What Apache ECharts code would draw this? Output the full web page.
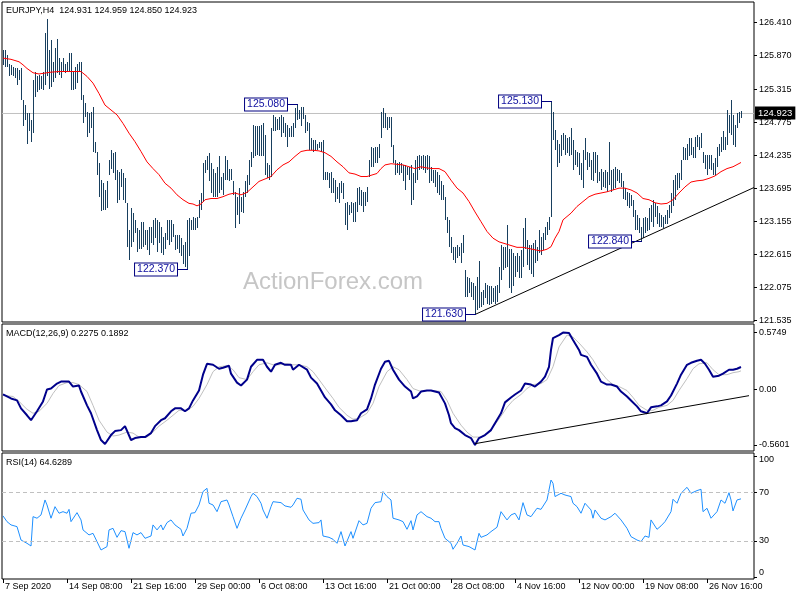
<!DOCTYPE html>
<html><head><meta charset="utf-8">
<script src="https://cdn.jsdelivr.net/npm/echarts@6/dist/echarts.min.js"></script>
<style>html,body{margin:0;padding:0;background:#fff}#c{width:800px;height:600px}</style>
</head><body><div id="c"></div>
<script>
// ---------- DATA ----------
const highs = [
125.96,125.96,125.88,125.74,125.72,125.69,125.66,125.66,125.63,125.66,
125.14,125.06,124.93,124.93,124.82,125.47,125.61,125.53,125.55,125.53,
125.61,126.24,126.47,125.96,126.13,125.77,125.99,126.15,125.83,125.77,
125.83,125.74,125.77,125.91,125.92,125.61,125.69,125.74,125.77,125.77,
125.23,125.09,124.95,124.93,124.95,125.03,124.46,124.30,124.11,123.83,
123.78,123.67,123.81,124.16,124.32,124.27,124.30,124.00,123.97,124.02,
123.94,123.86,123.45,123.01,123.37,123.29,123.18,123.04,123.01,123.15,
123.15,123.01,123.01,123.07,123.07,123.18,123.21,123.18,123.15,123.07,
122.90,122.96,123.18,123.18,123.18,123.12,122.93,122.93,122.93,122.88,
122.77,122.82,123.18,123.21,123.18,123.23,123.21,123.23,123.51,123.62,
124.11,124.16,124.22,124.27,124.11,124.02,123.94,124.05,124.22,123.89,
123.94,124.22,124.16,124.02,124.02,123.81,123.64,123.56,123.70,123.56,
123.64,123.81,123.92,124.16,124.30,124.73,124.71,124.71,124.71,124.73,
124.76,124.57,124.11,124.08,124.68,124.90,124.87,124.84,124.87,124.90,
124.87,124.76,124.73,124.68,124.71,124.76,125.01,125.08,124.98,125.03,
125.03,124.90,124.79,124.76,124.52,124.49,124.49,124.43,124.46,124.46,
124.49,123.97,123.97,123.94,123.97,123.86,123.83,123.72,123.78,123.81,
123.78,123.45,123.48,123.42,123.48,123.45,123.48,123.70,123.72,123.67,
123.64,123.64,123.72,124.16,124.38,124.35,124.38,124.38,124.43,124.95,
125.01,124.93,124.87,124.87,124.87,124.41,124.16,124.11,124.13,124.11,
124.08,124.08,124.05,124.05,124.08,123.94,124.16,124.22,124.24,124.22,
124.24,124.22,124.24,124.22,124.05,124.00,124.00,123.97,123.92,123.81,
123.75,123.56,123.23,123.18,122.90,122.74,122.74,122.77,122.74,122.80,
122.93,122.36,122.25,122.22,122.17,122.14,122.09,122.25,122.50,122.00,
122.03,122.14,122.11,122.09,122.09,122.06,122.09,122.11,122.41,122.77,
122.74,122.74,123.10,122.71,122.71,122.63,122.58,122.63,122.58,122.69,
123.04,123.21,122.85,122.77,122.77,122.80,122.85,122.74,123.01,122.90,
122.96,123.07,123.15,123.23,125.13,124.95,124.65,124.49,124.43,124.57,
124.60,124.57,124.52,124.54,124.68,124.49,124.32,124.30,124.27,124.11,
124.32,124.52,124.30,124.27,124.16,124.30,124.30,124.24,123.97,124.02,
123.97,124.00,123.97,124.46,124.00,124.02,124.05,124.02,124.00,123.94,
123.81,123.70,123.64,123.62,123.59,123.51,123.34,123.26,123.21,123.07,
123.21,123.23,123.21,123.37,123.42,123.51,123.45,123.40,123.29,123.26,
123.23,123.26,123.34,123.42,123.62,123.83,123.92,123.94,123.94,124.16,
124.38,124.35,124.43,124.52,124.52,124.38,124.54,124.57,124.54,124.60,
124.30,124.24,124.24,124.24,124.24,124.11,124.19,124.38,124.43,124.54,
124.63,124.54,124.98,124.90,125.14,124.90,124.73,124.93,124.95,124.959
];
const lows = [
125.72,125.69,125.69,125.53,125.55,125.53,125.50,125.39,125.47,125.14,
124.71,124.82,124.43,124.63,124.46,124.60,125.20,125.28,125.31,125.33,
125.31,125.39,125.53,125.33,125.36,125.44,125.50,125.58,125.55,125.50,
125.61,125.58,125.61,125.61,125.31,125.31,125.33,125.42,125.61,125.14,
124.76,124.87,124.54,124.60,124.68,124.30,124.27,123.92,123.56,123.32,
123.34,123.34,123.37,123.92,124.02,123.94,123.83,123.45,123.51,123.72,
123.51,123.45,122.74,122.52,122.74,122.82,122.96,122.66,122.71,122.71,
122.74,122.77,122.69,122.60,122.80,122.77,122.88,122.66,122.80,122.63,
122.60,122.71,122.85,122.77,122.82,122.90,122.69,122.71,122.63,122.58,
122.45,122.40,122.37,122.58,123.01,123.01,123.01,123.04,123.21,123.34,
123.48,123.94,124.00,123.81,123.62,123.56,123.56,123.56,123.62,123.67,
123.59,123.83,123.83,123.81,123.83,123.59,123.04,123.26,123.12,123.31,
123.29,123.56,123.62,123.75,124.05,124.19,124.22,124.24,124.22,124.22,
124.22,123.92,123.86,123.83,123.89,124.63,124.63,124.65,124.65,124.54,
124.60,124.54,124.38,124.54,124.54,124.54,124.68,124.82,124.84,124.71,
124.84,124.60,124.63,124.32,124.32,124.30,124.32,124.32,124.35,124.30,
123.83,123.83,123.83,123.70,123.62,123.62,123.48,123.53,123.45,123.62,
123.53,123.10,123.01,123.26,123.29,123.15,123.15,123.31,123.42,123.40,
123.31,123.40,123.48,123.89,124.05,124.05,124.11,124.11,124.19,124.52,
124.68,124.68,124.65,124.68,124.38,124.11,123.92,123.94,123.92,123.94,
123.81,123.67,123.92,123.83,123.42,123.51,123.78,123.83,124.00,124.02,
124.00,123.94,124.00,123.78,123.81,123.78,123.72,123.62,123.59,123.51,
123.51,123.18,122.96,122.74,122.63,122.52,122.47,122.55,122.58,122.47,
122.63,121.92,121.92,121.98,121.92,121.87,121.63,121.70,121.73,121.76,
121.79,121.90,121.81,121.79,121.81,121.84,121.81,121.84,121.98,122.20,
122.36,122.39,122.41,122.06,121.98,122.09,122.25,122.33,122.22,122.22,
122.41,122.71,122.44,122.36,122.30,122.25,122.47,122.50,122.63,122.60,
122.69,122.85,122.93,123.01,123.23,124.49,124.32,124.05,124.11,124.22,
124.32,124.24,124.27,124.22,124.24,124.00,124.08,124.05,123.92,123.83,
123.70,124.16,124.00,124.05,123.83,123.81,123.94,123.78,123.81,123.67,
123.72,123.70,123.64,123.75,123.64,123.67,123.70,123.81,123.78,123.72,
123.53,123.51,123.40,123.37,123.40,123.23,123.01,123.01,122.96,122.84,
122.88,122.96,122.99,123.01,123.15,123.07,123.23,123.12,123.07,123.07,
123.04,123.12,123.12,123.21,123.29,123.40,123.51,123.67,123.70,123.83,
124.16,124.16,124.16,124.22,124.24,124.19,124.19,124.38,124.32,124.35,
124.11,124.02,123.92,124.02,124.00,123.92,123.92,124.05,124.22,124.30,
124.32,124.32,124.41,124.60,124.57,124.41,124.38,124.68,124.76,124.85
];
// moving average (bar index, value)
const maPoints = [[0,125.83],[4,125.81],[8,125.77],[10,125.72],[12,125.66],[15,125.59],[18,125.57],[20,125.58],[24,125.60],[28,125.61],[32,125.61],[36,125.61],[39,125.61],[42,125.53],[45,125.42],[48,125.25],[51,125.06],[54,124.98],[57,124.90],[60,124.76],[63,124.60],[66,124.46],[69,124.30],[72,124.13],[75,124.02],[78,123.92],[81,123.78],[84,123.70],[87,123.59],[90,123.51],[93,123.45],[95,123.44],[97,123.41],[99,123.44],[101,123.51],[104,123.53],[107,123.53],[110,123.56],[113,123.60],[116,123.62],[119,123.59],[122,123.63],[125,123.72],[128,123.81],[131,123.85],[134,123.89],[137,124.00],[140,124.08],[143,124.13],[146,124.22],[149,124.30],[152,124.32],[155,124.32],[158,124.31],[161,124.28],[164,124.22],[167,124.13],[170,124.05],[173,123.95],[176,123.93],[179,123.89],[182,123.89],[185,123.92],[187,123.94],[189,124.02],[191,124.08],[194,124.10],[197,124.09],[200,124.08],[203,124.05],[206,124.02],[209,124.05],[212,124.03],[215,124.02],[218,124.02],[221,123.97],[224,123.83],[227,123.70],[230,123.62],[233,123.48],[236,123.31],[239,123.15],[242,122.99],[245,122.88],[248,122.82],[251,122.79],[254,122.76],[257,122.73],[260,122.73],[263,122.71],[266,122.69],[269,122.67],[272,122.70],[274,122.74],[276,122.88],[278,122.99],[280,123.18],[284,123.29],[287,123.40],[290,123.48],[293,123.56],[296,123.60],[299,123.62],[302,123.64],[305,123.67],[308,123.70],[311,123.70],[314,123.67],[317,123.62],[320,123.53],[323,123.51],[326,123.46],[329,123.44],[332,123.45],[335,123.51],[338,123.62],[341,123.72],[344,123.80],[347,123.82],[350,123.83],[353,123.86],[356,123.90],[359,123.97],[362,124.02],[365,124.05],[369,124.12]];
const macdPoints = [[0,-0.05],[4,-0.09],[7,-0.11],[9,-0.19],[12,-0.26],[14,-0.31],[17,-0.22],[20,-0.12],[22,0.00],[24,0.01],[27,0.06],[29,0.08],[33,0.08],[35,0.03],[38,0.04],[39,-0.02],[42,-0.16],[44,-0.24],[47,-0.41],[49,-0.51],[51,-0.55],[54,-0.46],[56,-0.42],[59,-0.41],[61,-0.37],[64,-0.51],[66,-0.49],[69,-0.48],[71,-0.48],[74,-0.44],[76,-0.37],[79,-0.31],[81,-0.29],[84,-0.22],[86,-0.19],[89,-0.19],[91,-0.22],[93,-0.19],[95,-0.11],[98,-0.01],[100,0.15],[102,0.26],[105,0.25],[108,0.21],[110,0.22],[113,0.24],[114,0.16],[117,0.07],[119,0.04],[122,0.10],[124,0.23],[127,0.30],[130,0.30],[132,0.23],[134,0.18],[136,0.25],[139,0.27],[141,0.25],[144,0.25],[145,0.20],[148,0.25],[149,0.25],[152,0.20],[154,0.12],[157,0.06],[159,-0.01],[161,-0.08],[164,-0.15],[166,-0.21],[169,-0.26],[170,-0.27],[172,-0.32],[174,-0.32],[177,-0.31],[179,-0.24],[182,-0.20],[184,-0.09],[186,0.05],[189,0.21],[191,0.28],[193,0.29],[195,0.20],[198,0.10],[199,0.10],[201,0.03],[204,-0.02],[205,-0.09],[207,-0.07],[209,-0.02],[212,-0.01],[214,-0.01],[218,-0.03],[219,-0.05],[221,-0.14],[223,-0.26],[224,-0.34],[226,-0.39],[228,-0.41],[231,-0.46],[234,-0.49],[236,-0.5601],[238,-0.49],[241,-0.46],[244,-0.41],[246,-0.34],[249,-0.24],[251,-0.13],[254,-0.08],[256,-0.05],[259,-0.01],[261,0.06],[264,0.05],[266,0.03],[269,0.08],[271,0.13],[273,0.23],[274,0.40],[275,0.52],[278,0.55],[280,0.5749],[283,0.57],[285,0.50],[288,0.40],[289,0.35],[292,0.33],[294,0.25],[297,0.16],[299,0.08],[302,0.05],[304,0.05],[307,0.03],[309,-0.02],[312,-0.07],[314,-0.11],[317,-0.17],[319,-0.22],[322,-0.24],[324,-0.18],[327,-0.17],[329,-0.16],[332,-0.12],[334,-0.06],[337,0.06],[339,0.15],[342,0.25],[344,0.27],[347,0.29],[349,0.30],[351,0.26],[353,0.20],[355,0.13],[358,0.14],[360,0.16],[363,0.20],[365,0.20],[367,0.21],[369,0.2275]];
const signalPoints = [[0,-0.06],[5,-0.07],[8,-0.12],[12,-0.20],[15,-0.24],[18,-0.22],[22,-0.14],[25,-0.04],[28,0.04],[32,0.07],[35,0.07],[38,0.05],[42,-0.02],[45,-0.16],[48,-0.31],[52,-0.43],[55,-0.47],[58,-0.46],[62,-0.43],[65,-0.44],[68,-0.48],[72,-0.48],[75,-0.43],[78,-0.37],[82,-0.31],[85,-0.26],[88,-0.21],[92,-0.21],[95,-0.17],[98,-0.09],[102,0.05],[105,0.18],[108,0.23],[112,0.24],[115,0.20],[118,0.12],[122,0.10],[125,0.18],[128,0.25],[132,0.27],[135,0.25],[138,0.25],[142,0.26],[145,0.25],[148,0.25],[152,0.23],[155,0.18],[158,0.10],[162,-0.01],[165,-0.09],[168,-0.18],[172,-0.26],[175,-0.30],[178,-0.29],[182,-0.24],[185,-0.14],[188,0.03],[192,0.18],[195,0.23],[198,0.20],[202,0.10],[205,0.01],[209,-0.02],[212,-0.01],[215,-0.01],[219,-0.02],[222,-0.11],[225,-0.24],[229,-0.36],[232,-0.43],[235,-0.48],[239,-0.48],[242,-0.44],[245,-0.38],[249,-0.27],[252,-0.18],[255,-0.11],[259,-0.05],[262,0.01],[265,0.05],[269,0.06],[272,0.10],[275,0.23],[278,0.43],[282,0.55],[285,0.53],[288,0.47],[292,0.38],[295,0.30],[298,0.20],[302,0.10],[305,0.05],[308,0.03],[312,-0.01],[315,-0.08],[318,-0.16],[322,-0.21],[325,-0.21],[328,-0.18],[332,-0.16],[335,-0.11],[338,-0.01],[342,0.11],[345,0.21],[348,0.26],[352,0.27],[355,0.20],[358,0.15],[362,0.15],[365,0.17],[368,0.18],[369,0.1892]];
const rsiPoints = [[0,50.6],[2,45.9],[4,43.2],[7,41.8],[8,42.4],[9,30.8],[12,28.1],[14,25.9],[15,50.0],[17,48.7],[19,51.4],[21,63.7],[22,59.6],[24,48.7],[26,58.2],[28,52.8],[30,54.1],[32,52.8],[33,56.0],[34,45.9],[37,53.3],[39,47.3],[40,39.1],[43,35.0],[45,36.3],[47,29.5],[49,22.6],[52,25.4],[53,39.1],[55,40.4],[57,33.0],[59,38.5],[61,37.7],[63,24.0],[65,36.9],[67,35.0],[69,36.9],[71,32.2],[74,34.1],[75,43.2],[77,39.1],[79,43.2],[80,39.1],[82,45.1],[84,47.3],[86,43.2],[89,39.6],[90,34.1],[92,40.4],[94,52.8],[96,53.3],[98,59.6],[100,70.6],[102,73.3],[103,61.0],[105,59.6],[107,54.1],[109,62.3],[112,63.7],[113,59.6],[115,50.0],[117,40.4],[119,48.7],[121,55.5],[124,66.5],[125,69.2],[127,66.5],[129,61.0],[130,55.5],[132,48.7],[134,58.2],[135,62.3],[139,61.5],[141,58.8],[144,57.7],[145,59.6],[147,65.1],[149,64.3],[150,55.5],[153,47.3],[155,44.5],[158,45.1],[159,47.3],[160,34.1],[163,33.0],[165,31.4],[167,28.1],[169,37.7],[171,25.9],[174,37.7],[175,32.2],[178,46.7],[180,43.2],[182,44.5],[184,56.9],[186,61.5],[189,62.3],[190,70.6],[192,66.5],[194,63.7],[195,48.7],[198,47.3],[199,47.3],[200,45.9],[202,39.6],[204,46.7],[205,39.1],[207,51.4],[209,54.1],[212,50.0],[214,48.7],[216,45.9],[218,45.9],[219,40.4],[221,32.2],[224,28.1],[225,23.2],[227,28.1],[229,34.1],[230,26.7],[233,25.4],[234,26.7],[236,22.6],[238,36.3],[239,33.0],[242,35.0],[244,37.7],[247,41.3],[249,54.1],[250,52.8],[252,47.3],[254,51.4],[256,52.8],[258,47.3],[260,61.5],[262,51.4],[264,50.0],[267,56.9],[269,56.0],[272,63.7],[274,80.1],[275,77.4],[276,66.5],[279,69.2],[281,67.8],[284,66.5],[285,61.0],[287,58.2],[289,52.8],[291,61.0],[294,55.5],[295,48.7],[296,55.5],[299,48.7],[301,47.3],[304,50.0],[306,52.8],[309,47.3],[312,40.4],[314,33.6],[317,30.8],[319,29.5],[321,34.1],[323,33.0],[324,47.3],[327,39.6],[329,42.4],[331,45.9],[334,54.1],[335,64.3],[337,61.0],[339,69.2],[342,74.1],[344,69.2],[347,71.4],[349,72.5],[350,54.1],[352,56.9],[354,48.7],[357,54.1],[359,63.7],[361,61.0],[363,69.7],[364,63.7],[365,54.7],[367,63.7],[369,64.63]];
const priceTicks = [121.535,122.075,122.615,123.155,123.695,124.235,124.775,125.315,125.870,126.410];
const priceTickLabels = ['121.535','122.075','122.615','123.155','123.695','124.235','124.775','125.315','125.870','126.410'];
const macdTicks = [-0.5601, 0, 0.5749];
const macdTickLabels = ['-0.5601','0.00','0.5749'];
const rsiTicks = [0, 30, 70, 100];
const rsiLevels = [30, 70];
const timeTicks = [0,32,64,96,128,160,192,224,256,288,320,352];
const timeLabels = ['7 Sep 2020','14 Sep 08:00','21 Sep 16:00','29 Sep 00:00','6 Oct 08:00','13 Oct 16:00','21 Oct 00:00','28 Oct 08:00','4 Nov 16:00','12 Nov 00:00','19 Nov 08:00','26 Nov 16:00'];
const annotations = [[147,125.080,'125.080'],[92,122.370,'122.370'],[236,121.630,'121.630'],[274,125.130,'125.130'],[319,122.840,'122.840']];
const lastPrice = 124.923;
const priceTrend = [[236,121.63],[375.5,123.71]];
const macdTrend = [[236,-0.547],[373,-0.062]];
const symbolTitle = 'EURJPY,H4  124.931 124.959 124.850 124.923';
const macdTitle = 'MACD(12,26,9) 0.2275 0.1892';
const rsiTitle = 'RSI(14) 64.6289';

// ---------- CHART ----------
const F = '"Liberation Sans", Arial, sans-serif';
const BAR = '#183f5e';
const chart = echarts.init(document.getElementById('c'), null, {renderer:'canvas'});
const gridCommon = {left:2, right:46, show:true, borderColor:'#000', borderWidth:1, backgroundColor:'#fff'};
const xBase = {type:'value', min:-0.5, max:375.5, splitLine:{show:false}};
const lbl = {fontSize:9, color:'#000', fontFamily:F};

function labelFor(ticks, labels){ return v => { const k = ticks.findIndex(t => Math.abs(t - v) < 1e-6); return k >= 0 ? labels[k] : ''; }; }

const option = {
  animation:false,
  backgroundColor:'#fff',
  title:[
    {text:symbolTitle, left:6, top:6, padding:0, textStyle:{fontSize:9, fontWeight:'normal', color:'#000', fontFamily:F}},
    {text:macdTitle, left:6, top:329, padding:0, textStyle:{fontSize:9, fontWeight:'normal', color:'#000', fontFamily:F}},
    {text:rsiTitle, left:6, top:458, padding:0, textStyle:{fontSize:9, fontWeight:'normal', color:'#000', fontFamily:F}},
    {text:'ActionForex.com', left:243, top:270, padding:0, textStyle:{fontSize:24, fontWeight:'normal', color:'#c6c6c6', fontFamily:F}}
  ],
  grid:[
    Object.assign({top:2, height:320}, gridCommon),
    Object.assign({top:324, height:127}, gridCommon),
    Object.assign({top:453, height:126}, gridCommon)
  ],
  xAxis:[
    Object.assign({gridIndex:0, show:false}, xBase),
    Object.assign({gridIndex:1, show:false}, xBase),
    Object.assign({gridIndex:2, position:'bottom', axisLine:{show:false, onZero:false},
      axisTick:{show:true, length:4, customValues:timeTicks, lineStyle:{color:'#000'}},
      axisLabel:Object.assign({customValues:timeTicks, align:'left', margin:3, padding:[0,0,0,2],
        formatter:v => timeLabels[Math.round(v/32)]}, lbl)}, xBase)
  ],
  yAxis:[
    {gridIndex:0, type:'value', position:'right', min:121.507, max:126.749, splitLine:{show:false}, axisLine:{show:false, onZero:false},
      axisTick:{show:true, length:3, customValues:priceTicks, lineStyle:{color:'#000'}},
      axisLabel:Object.assign({customValues:priceTicks, margin:5, formatter:labelFor(priceTicks, priceTickLabels)}, lbl)},
    {gridIndex:1, type:'value', position:'right', min:-0.6209, max:0.6618, splitLine:{show:false}, axisLine:{show:false, onZero:false},
      axisTick:{show:true, length:3, customValues:macdTicks, lineStyle:{color:'#000'}},
      axisLabel:Object.assign({customValues:macdTicks, margin:5, formatter:labelFor(macdTicks, macdTickLabels)}, lbl)},
    {gridIndex:2, type:'value', position:'right', min:-1.23, max:102.3, splitLine:{show:false}, axisLine:{show:false, onZero:false},
      axisTick:{show:true, length:3, customValues:rsiTicks, lineStyle:{color:'#000'}},
      axisLabel:Object.assign({customValues:rsiTicks, margin:5,
        formatter:v => v === 100 ? '{a|100}' : (v === 0 ? '{b|0}' : String(v)),
        rich:{a:{fontSize:9, fontFamily:F, color:'#000', padding:[8,0,0,0]}, b:{fontSize:9, fontFamily:F, color:'#000', padding:[0,0,9,0]}}}, lbl)}
  ],
  series:[
    // current price line
    {type:'line', xAxisIndex:0, yAxisIndex:0, data:[[-0.5,lastPrice],[375.5,lastPrice]], showSymbol:false, silent:true, z:1,
      lineStyle:{color:'#c0c0c0', width:1}},
    // price bars
    {type:'custom', xAxisIndex:0, yAxisIndex:0, z:3, silent:true,
      data:highs.map((h,i) => [i, lows[i], h]),
      encode:{x:0, y:[1,2]},
      renderItem:(params, api) => {
        const i = api.value(0);
        const lo = api.coord([i, api.value(1)]);
        const hi = api.coord([i, api.value(2)]);
        const x = Math.round(lo[0]) + 0.5;
        let y1 = Math.round(lo[1]), y2 = Math.round(hi[1]);
        if (y1 - y2 < 1) y2 = y1 - 1;
        return {type:'line', shape:{x1:x, y1:y1, x2:x, y2:y2}, style:{stroke:BAR, lineWidth:1}};
      }},
    // moving average
    {type:'line', xAxisIndex:0, yAxisIndex:0, data:maPoints, showSymbol:false, silent:true, z:4,
      lineStyle:{color:'#ff0000', width:1}},
    // price trend line
    {type:'line', xAxisIndex:0, yAxisIndex:0, data:priceTrend, showSymbol:false, silent:true, z:4,
      lineStyle:{color:'#000', width:1}},
    // annotations (high/low labels)
    {type:'custom', xAxisIndex:0, yAxisIndex:0, z:6, silent:true, clip:false,
      data:annotations,
      encode:{x:0, y:1},
      renderItem:(params, api) => {
        const p = api.coord([api.value(0), api.value(1)]);
        const y = Math.round(p[1]) + 0.5;
        const x0 = Math.round(p[0]) - 10;
        return {type:'group', children:[
          {type:'line', shape:{x1:x0, y1:y, x2:Math.round(p[0]) + 1, y2:y}, style:{stroke:'#000080', lineWidth:1}},
          {type:'text', x:x0, y:y, style:{text:annotations[params.dataIndex][2], align:'right', verticalAlign:'middle',
            fill:'#1010a0', font:'10.5px ' + F, backgroundColor:'#fff', borderColor:'#000080', borderWidth:1,
            padding:[1,2,0,2]}}
        ]};
      }},
    // last price tag on axis
    {type:'custom', xAxisIndex:0, yAxisIndex:0, z:7, silent:true, clip:false,
      data:[[375.5, lastPrice]],
      encode:{x:0, y:1},
      renderItem:(params, api) => {
        const p = api.coord([api.value(0), api.value(1)]);
        return {type:'text', x:p[0] + 1, y:Math.round(p[1]), style:{text:lastPrice.toFixed(3), align:'left', verticalAlign:'middle',
          fill:'#fff', font:'9.5px ' + F, backgroundColor:'#000', padding:[2,3,1,3]}};
      }},
    // MACD
    {type:'line', xAxisIndex:1, yAxisIndex:1, data:signalPoints, showSymbol:false, silent:true, z:3,
      lineStyle:{color:'#c0c0c0', width:1}},
    {type:'line', xAxisIndex:1, yAxisIndex:1, data:macdPoints, showSymbol:false, silent:true, z:4,
      lineStyle:{color:'#00008b', width:2}},
    {type:'line', xAxisIndex:1, yAxisIndex:1, data:macdTrend, showSymbol:false, silent:true, z:5,
      lineStyle:{color:'#000', width:1}},
    // RSI
    {type:'line', xAxisIndex:2, yAxisIndex:2, data:rsiPoints, showSymbol:false, silent:true, z:4,
      lineStyle:{color:'#1e90ff', width:1},
      markLine:{silent:true, symbol:['none','none'], label:{show:false},
        lineStyle:{color:'#c0c0c0', type:[4,3], width:1},
        data:rsiLevels.map(v => ({yAxis:v}))}}
  ]
};
chart.setOption(option);
</script>
</body></html>
